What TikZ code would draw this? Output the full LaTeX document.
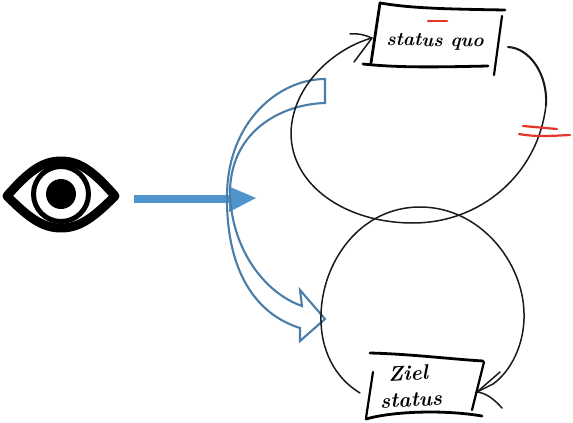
\documentclass[tikz,border=0pt]{standalone}
\usetikzlibrary{calc}
\definecolor{flowblue}{HTML}{5094CE}
\definecolor{outlineblue}{HTML}{4A7EA8}
\definecolor{penred}{HTML}{E5352B}
\definecolor{penblack}{HTML}{1A1A1A}
\tikzset{
  pen/.style={draw=penblack,line width=1.5pt,line cap=round,line join=round},
  boxpen/.style={draw=black,line width=2.8pt,line cap=round,line join=round},
  redpen/.style={draw=penred,line width=2.2pt,line cap=round},
  bluepen/.style={draw=outlineblue,line width=2.1pt,line join=miter},
  script/.style={inner sep=0pt,font=\bfseries\itshape\fontsize{21}{21}\selectfont,text=black},
}
\begin{document}
\begin{tikzpicture}[x=1pt,y=-1pt]
\useasboundingbox (0,0) rectangle (573,423);
% eye
\coordinate (eyeL) at (7,196);
\coordinate (eyeR) at (115,196);
\coordinate (eyeC) at (61,194);
\begin{scope}
\clip (eyeL) .. controls (28,172) and (42,161) .. (61,161) .. controls (80,161) and (94,172) .. (eyeR)
  .. controls (94,217) and (80,228) .. (61,228) .. controls (42,228) and (28,217) .. (eyeL) -- cycle;
\draw[black,line width=5pt] (eyeC) circle (27.5);
\end{scope}
\draw[black,line width=9pt,line join=round] (eyeL) .. controls (28,172) and (42,161) .. (61,161) .. controls (80,161) and (94,172) .. (eyeR)
  .. controls (94,217) and (80,228) .. (61,228) .. controls (42,228) and (28,217) .. (eyeL) -- cycle;
\fill[black] (eyeC) circle (15);
% main arrow
\coordinate (arrowStart) at (134,199);
\coordinate (arrowBase) at (231,199);
\coordinate (arrowTip) at (256,198);
\draw[flowblue,line width=8pt] (arrowStart) -- (arrowBase);
\fill[flowblue] (229,186.5) -- (arrowTip) -- (229,212) -- cycle;
% curved outline arrow
\draw[bluepen] (325,79) -- (325,103)
  .. controls (285,104) and (232,128) .. (230,190)
  .. controls (230,245) and (262,292) .. (302,306)
  -- (300,290) -- (325,319) -- (300,341) -- (300,328)
  .. controls (255,314) and (226,270) .. (227,195)
  .. controls (228,120) and (280,79) .. (325,79) -- cycle;
% cycle 1
\coordinate (sqIn) at (372,38);
\coordinate (sqOut) at (508,47);
\draw[pen] (sqIn) .. controls (335,48) and (292,85) .. (291,133)
  .. controls (291,185) and (345,223) .. (413,223)
  .. controls (480,223) and (538,175) .. (546,105);
\draw[pen,line width=2.1pt] (546,105) .. controls (548,75) and (530,48) .. (sqOut);
\draw[pen] (350,34) .. controls (358,33) and (365,35) .. (sqIn) -- (354,62);
% cycle 2
\coordinate (zsIn) at (477,392);
\coordinate (zsOut) at (360,393);
\draw[pen] (zsOut) .. controls (335,378) and (320,350) .. (321,315)
  .. controls (322,262) and (360,207) .. (420,207)
  .. controls (480,207) and (523,262) .. (524,313)
  .. controls (525,345) and (510,372) .. (493,384);
\draw[pen] (500,372) -- (zsIn) .. controls (486,393) and (494,399) .. (502,408);
\draw[pen] (zsIn) -- (493,384);
% box status quo
\node[script,rotate=-1,font=\bfseries\itshape\fontsize{19}{19}\selectfont] (sq) at (435,42) {status quo};
\draw[boxpen] (380,3) .. controls (410,8) and (440,9) .. (505,10);
\draw[boxpen] (380,3) -- (371,63);
\draw[boxpen] (363,64) .. controls (400,68) and (440,67) .. (488,66);
\draw[boxpen,line width=2.2pt] (502,16) -- (494,75);
% box Ziel status
\node[script,rotate=3] (ziel) at (408,373) {Ziel};
\node[script,rotate=3] (stat) at (411,400) {status};
\draw[boxpen] (370,353) .. controls (410,354) and (450,359) .. (483,361);
\draw[boxpen,line width=2.2pt] (484,362) -- (472,410);
\draw[boxpen,line width=2.2pt] (373,372) -- (366,418);
\draw[boxpen] (366,419) .. controls (390,412) and (440,409) .. (482,416);
% red marks
\draw[redpen] (428,21) -- (447,21);
\draw[redpen] (523,126) -- (557,129);
\draw[redpen] (519,134) .. controls (535,137) and (550,136) .. (570,135);
\end{tikzpicture}
\end{document}
